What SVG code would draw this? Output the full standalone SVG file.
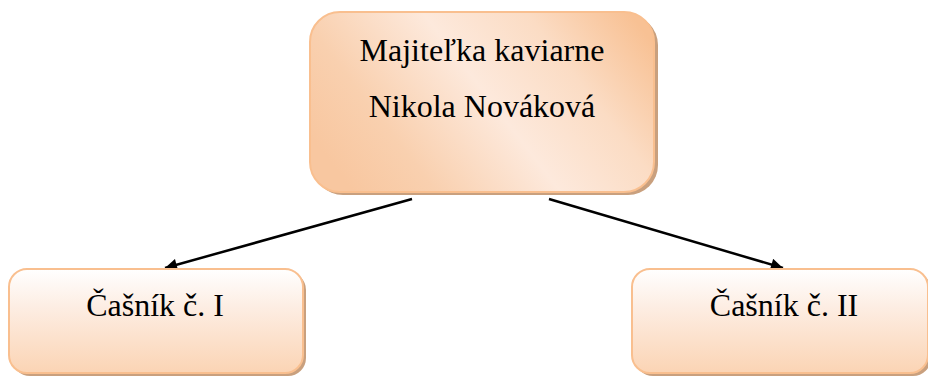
<svg xmlns="http://www.w3.org/2000/svg" width="928" height="379" viewBox="0 0 928 379">
<defs>
<linearGradient id="gTop" gradientUnits="userSpaceOnUse" x1="360" y1="200" x2="620" y2="0">
<stop offset="0" stop-color="#f8c7a0"/>
<stop offset="0.2" stop-color="#f9d0af"/>
<stop offset="0.5" stop-color="#fde9dc"/>
<stop offset="0.75" stop-color="#fbdcc4"/>
<stop offset="1" stop-color="#f8c194"/>
</linearGradient>
<linearGradient id="gSub" x1="0" y1="0" x2="0" y2="1">
<stop offset="0" stop-color="#ffffff"/>
<stop offset="0.35" stop-color="#fdeee4"/>
<stop offset="1" stop-color="#fbd4b4"/>
</linearGradient>
<marker id="arr" viewBox="0 0 10 10" refX="10" refY="5" markerWidth="14" markerHeight="12" markerUnits="userSpaceOnUse" orient="auto">
<path d="M0,0 L10,5 L0,10 z" fill="#000"/>
</marker>
</defs>
<style>
.shadow{fill:#c9a07e;}
.box{stroke:#f9bf8f;stroke-width:2;}
.t{font-family:"Liberation Serif","Times New Roman",serif;font-size:32px;fill:#000;text-anchor:middle;}
.c{stroke:#000;stroke-width:2.5;fill:none;}
</style>
<g id="connectors">
<line class="c" x1="412" y1="199" x2="165" y2="268" marker-end="url(#arr)"/>
<line class="c" x1="549" y1="199" x2="783" y2="268" marker-end="url(#arr)"/>
</g>
<g id="owner">
<rect class="shadow" x="313" y="15" width="345" height="180" rx="30"/>
<rect class="box" x="310" y="12" width="344" height="180" rx="30" fill="url(#gTop)"/>
<text class="t" x="482" y="61">Majiteľka kaviarne</text>
<text class="t" x="482" y="117">Nikola Nováková</text>
</g>
<g id="waiter1">
<rect class="shadow" x="12" y="272" width="294" height="104" rx="18"/>
<rect class="box" x="9" y="269" width="294" height="104" rx="18" fill="url(#gSub)"/>
<text class="t" x="155" y="316">Čašník č. I</text>
</g>
<g id="waiter2">
<rect class="shadow" x="635" y="272" width="296" height="104" rx="18"/>
<rect class="box" x="632" y="269" width="296" height="104" rx="18" fill="url(#gSub)"/>
<text class="t" x="784" y="316">Čašník č. II</text>
</g>
</svg>
